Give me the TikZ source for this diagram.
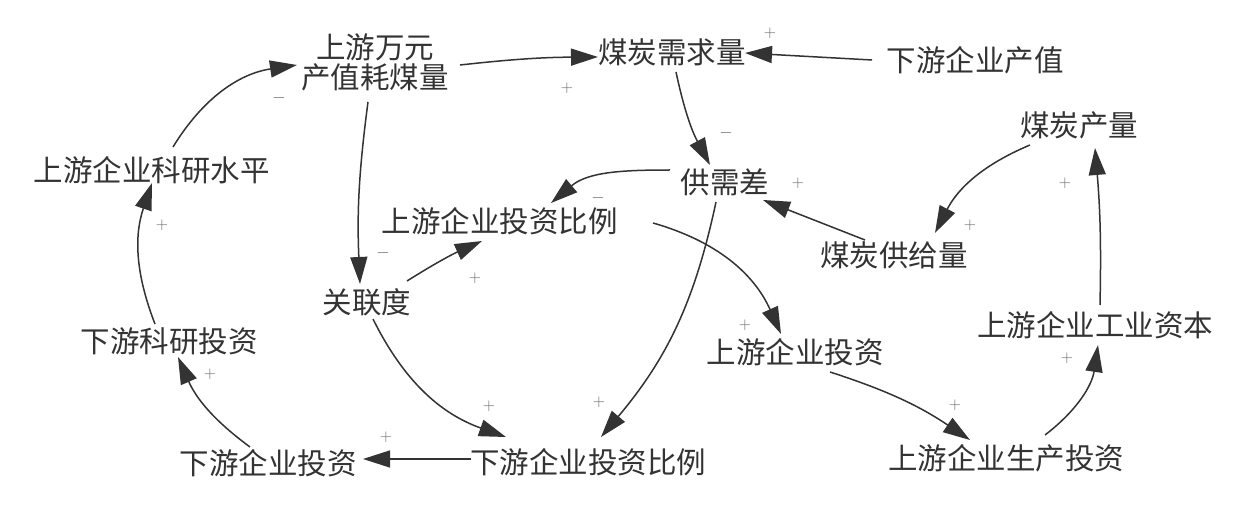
\documentclass[tikz,border=0pt]{standalone}
\usepackage{fontspec}
\newfontfamily\cjk{Noto Sans CJK SC}
\usetikzlibrary{arrows.meta}
\definecolor{ink}{HTML}{333333}
\definecolor{sgn}{HTML}{666666}
\begin{document}
\begin{tikzpicture}[x=1pt,y=1pt,
  var/.style={font=\cjk\fontsize{29.5}{30}\selectfont, text=ink, inner sep=0pt, align=center},
  lnk/.style={draw=ink, line width=1.5pt, -{Triangle[length=27pt,width=17pt]}},
  sg/.style={font=\fontsize{17}{17}\selectfont, text=sgn, inner sep=0pt}]
\useasboundingbox (0,0) rectangle (1253,504);
% variables
\node[var] (hmk) at (375,442) {上游万元\\产值耗煤量};
\node[var] (xq) at (672,451.5) {煤炭需求量};
\node[var] (xycz) at (975,444) {下游企业产值};
\node[var] (cl) at (1079,379) {煤炭产量};
\node[var] (ky) at (151.5,334) {上游企业科研水平};
\node[var] (gxc) at (725,322) {供需差};
\node[var] (tzbl) at (499.5,283) {上游企业投资比例};
\node[var] (gjl) at (894,249) {煤炭供给量};
\node[var] (gld) at (367,202) {关联度};
\node[var] (gyzb) at (1095,179) {上游企业工业资本};
\node[var] (xkt) at (169,162.5) {下游科研投资};
\node[var] (sytz) at (795,152) {上游企业投资};
\node[var] (xytz) at (268,40.5) {下游企业投资};
\node[var] (xbl) at (588,42) {下游企业投资比例};
\node[var] (sctz) at (1006,46) {上游企业生产投资};
% links
\draw[lnk] ([shift={(85,-3)}]hmk.center) to[bend left=3] ([shift={(-74,-4.5)}]xq.center);
\draw[lnk] ([shift={(-103,0)}]xycz.center) -- ([shift={(73,-0.5)}]xq.center);
\draw[lnk] ([shift={(4,-19.5)}]xq.center) to[bend right=8] ([shift={(-15,17)}]gxc.center);
\draw[lnk] ([shift={(-55,12)}]gxc.center) to[out=180,in=40] ([shift={(51.5,18)}]tzbl.center);
\draw[lnk] ([shift={(-7,-40)}]hmk.center) to[bend right=5] ([shift={(-7,18)}]gld.center);
\draw[lnk] ([shift={(40,21)}]gld.center) to[bend left=4] ([shift={(-17.5,-20)}]tzbl.center);
\draw[lnk] ([shift={(6,-17)}]gld.center) to[bend right=22] ([shift={(-82,25)}]xbl.center);
\draw[lnk] ([shift={(-9,-20)}]gxc.center) to[bend left=14] ([shift={(13,25)}]xbl.center);
\draw[lnk] ([shift={(153.5,-2)}]tzbl.center) to[bend left=25] ([shift={(-14,18)}]sytz.center);
\draw[lnk] ([shift={(-49,-20)}]cl.center) to[bend right=20] ([shift={(41,22)}]gjl.center);
\draw[lnk] ([shift={(-29,15)}]gjl.center) -- ([shift={(38,-18)}]gxc.center);
\draw[lnk] ([shift={(5,20)}]gyzb.center) to[bend right=3] ([shift={(16,-23)}]cl.center);
\draw[lnk] ([shift={(39,23)}]sctz.center) to[bend right=22] ([shift={(3,-20)}]gyzb.center);
\draw[lnk] ([shift={(35,-20)}]sytz.center) to[bend left=8] ([shift={(-36,18)}]sctz.center);
\draw[lnk] ([shift={(-117,3)}]xbl.center) -- ([shift={(95,4.5)}]xytz.center);
\draw[lnk] ([shift={(-18,16.5)}]xytz.center) to[bend left=15] ([shift={(9,-15.5)}]xkt.center);
\draw[lnk] ([shift={(-14,17.5)}]xkt.center) to[bend left=20] ([shift={(0.5,-13)}]ky.center);
\draw[lnk] ([shift={(21.5,23)}]ky.center) to[bend left=25] ([shift={(-78,-3)}]hmk.center);
% polarity signs
\node[sg] (p1) at (567,416) {+};
\node[sg] (p2) at (770,471) {+};
\node[sg] (p3) at (726,371) {$-$};
\node[sg] (p4) at (598,306) {$-$};
\node[sg] (p5) at (383,251) {$-$};
\node[sg] (p6) at (475,226) {+};
\node[sg] (p7) at (489,98) {+};
\node[sg] (p8) at (599,102) {+};
\node[sg] (p9) at (745,179) {+};
\node[sg] (p10) at (970,279) {+};
\node[sg] (p11) at (798,321) {+};
\node[sg] (p12) at (1065,321) {+};
\node[sg] (p13) at (1067,146) {+};
\node[sg] (p14) at (955,99) {+};
\node[sg] (p15) at (386,67) {+};
\node[sg] (p16) at (210,130) {+};
\node[sg] (p17) at (162,279) {+};
\node[sg] (p18) at (279,406) {$-$};
\end{tikzpicture}
\end{document}
